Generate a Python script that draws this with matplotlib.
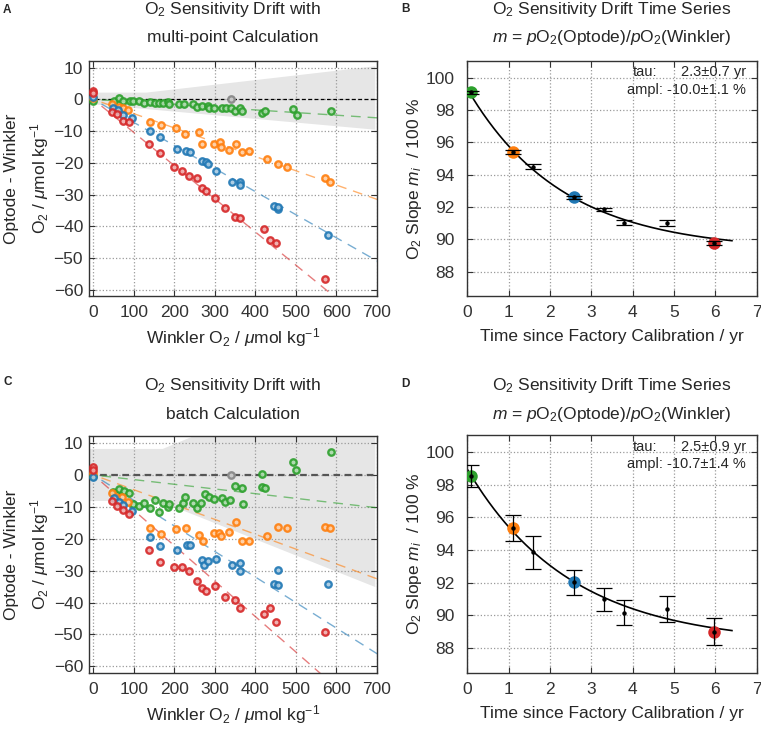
import matplotlib
matplotlib.use("Agg")
import matplotlib.pyplot as plt
import numpy as np

plt.rcParams['font.family'] = ['Liberation Sans', 'DejaVu Sans']
plt.rcParams['mathtext.fontset'] = 'custom'
plt.rcParams['mathtext.rm'] = 'Liberation Sans'
plt.rcParams['mathtext.it'] = 'Liberation Sans:italic'
plt.rcParams['mathtext.bf'] = 'Liberation Sans:bold'

# ---- panel A: multi-point calculation (Winkler O2 vs optode - winkler)
a_green_x = [0, 50, 64, 73, 90, 98, 113, 124, 139, 151, 163, 171, 184, 186, 212, 224, 245, 257,
             269, 282, 286, 298, 318, 327, 339, 351, 363, 367, 416, 424, 494, 502, 588]
a_green_y = [-0.5, -0.6, 0.3, -0.5, -0.5, -0.5, -0.5, -1.0, -0.7, -1.0, -1.0, -1.0, -0.7, -1.4,
             -1.4, -1.4, -1.6, -2.4, -2.1, -2.1, -2.6, -2.6, -2.6, -2.8, -2.8, -3.7, -2.8, -3.7,
             -4.2, -3.7, -3.1, -4.9, -3.7]
a_orange_x = [0, 47, 64, 73, 86, 139, 166, 204, 227, 260, 269, 298, 312, 314, 335, 353, 367, 384,
              429, 455, 478, 573, 585]
a_orange_y = [0.3, -1.4, -2.4, -2.6, -3.4, -7.0, -8.1, -8.9, -11.0, -10.3, -14.0, -14.2, -13.4,
              -15.0, -16.0, -14.2, -16.5, -16.3, -18.7, -20.5, -21.3, -24.9, -25.9]
a_blue_x = [0, 49, 61, 73, 96, 140, 165, 206, 229, 239, 269, 278, 283, 304, 343, 361, 362, 445,
            456, 457, 580]
a_blue_y = [0.8, -2.8, -3.5, -4.9, -6.0, -10.0, -11.9, -15.7, -16.3, -16.6, -19.4, -19.6, -20.5,
            -22.6, -26.2, -25.9, -27.0, -33.6, -34.6, -33.8, -42.7]
a_red_x = [0, 0, 47, 59, 72, 88, 137, 165, 200, 220, 237, 257, 268, 279, 300, 325, 349, 362, 421,
           436, 452, 571]
a_red_y = [2.8, 2.1, -3.9, -4.7, -6.8, -7.0, -14.0, -17.0, -21.3, -22.6, -24.3, -24.9, -27.8,
           -29.0, -31.0, -34.4, -37.0, -37.5, -40.9, -44.4, -45.4, -56.5]
a_fit_slope = [-0.0083, -0.045, -0.0727, -0.1045]   # green, orange, blue, red
a_band_x = [-10, 130, 695]
a_band_hi = [2.3, 2.3, 10.6]
a_band_lo = [-1.3, -2.9, -9.4]

# ---- panel C: batch calculation
c_green_x = [0, 49, 55, 64, 75, 88, 98, 113, 124, 141, 151, 161, 171, 185, 186, 212, 222, 227,
             245, 255, 265, 276, 286, 297, 317, 325, 337, 351, 366, 369, 416, 416, 424, 494, 500, 588]
c_green_y = [-0.3, -5.2, -6.0, -4.5, -4.9, -5.7, -9.1, -9.7, -8.9, -10.4, -7.8, -11.7, -8.7,
             -10.1, -9.1, -10.4, -8.9, -6.8, -8.9, -10.4, -8.7, -6.0, -6.8, -7.5, -7.3, -8.4,
             -7.8, -3.4, -4.2, -9.2, 0.2, -3.7, -4.2, 3.9, 1.4, 7.1]
c_orange_x = [0, 47, 55, 70, 86, 139, 166, 204, 229, 260, 271, 298, 310, 314, 336, 353, 367, 384,
              429, 455, 478, 573, 584]
c_orange_y = [0.5, -5.7, -6.8, -6.8, -8.4, -16.7, -18.6, -17.0, -16.7, -18.9, -20.7, -18.1,
              -18.1, -19.3, -18.0, -14.9, -20.7, -20.7, -19.3, -16.4, -16.5, -16.2, -16.5]
c_blue_x = [0, 51, 63, 73, 96, 141, 165, 206, 230, 239, 268, 273, 283, 304, 343, 361, 361, 447,
            456, 457, 580]
c_blue_y = [-0.5, -7.3, -8.4, -9.4, -11.2, -19.6, -22.3, -23.5, -21.9, -21.9, -26.6, -28.1,
            -27.0, -26.4, -28.3, -27.7, -30.0, -34.2, -34.5, -29.8, -34.3]
c_red_x = [0, 0, 47, 59, 72, 88, 137, 165, 200, 220, 237, 257, 268, 279, 300, 325, 349, 362, 421,
           436, 452, 571]
c_red_y = [2.4, 1.6, -8.2, -9.6, -11.0, -12.3, -23.5, -27.2, -29.0, -29.0, -30.1, -33.4, -35.5,
           -36.3, -34.8, -38.3, -39.2, -41.6, -43.6, -41.8, -46.2, -49.2]
c_fit_slope = [-0.0147, -0.0465, -0.080, -0.111]
c_band_x = [-10, 160, 170, 250, 695]
c_band_hi = [8.3, 8.3, 8.3, 12.5, 12.5]
c_band_lo = [-8.0, -8.0, -8.5, -12.5, -35.0]

ref_x = [339]
ref_y = [0]

# ---- panels B / D: slope time series
t_years = [0.08, 1.10, 1.585, 2.57, 3.30, 3.78, 4.84, 5.96]
b_slope = [99.09, 95.41, 94.49, 92.61, 91.85, 91.03, 91.03, 89.75]
b_err = [0.10, 0.10, 0.15, 0.10, 0.12, 0.15, 0.18, 0.12]
d_slope = [98.53, 95.36, 93.87, 92.02, 91.00, 90.18, 90.39, 89.02]
d_err = [0.66, 0.78, 1.00, 0.77, 0.70, 0.75, 0.80, 0.85]
colored_idx = [0, 1, 3, 7]
b_fit = dict(tau=2.3, ampl=-10.0, offset=99.3)
d_fit = dict(tau=2.5, ampl=-10.7, offset=98.95)
b_text = ["2.3\u00b10.7 yr", "ampl: -10.0\u00b11.1 %"]
d_text = ["2.5\u00b10.9 yr", "ampl: -10.7\u00b11.4 %"]

cols = ['#2ca02c', '#ff7f0e', '#1f77b4', '#d62728']
frame = '#333333'


def light(c, f=0.6):
    r, g, b = matplotlib.colors.to_rgb(c)
    return (r + (1 - r) * f, g + (1 - g) * f, b + (1 - b) * f)


def style(ax, ypad):
    for s in ax.spines.values():
        s.set_color(frame)
        s.set_linewidth(1.0)
    ax.tick_params(direction='in', top=True, right=True, length=4, width=0.8,
                   colors=frame, labelsize=12.5)
    ax.tick_params(axis='x', pad=6.5)
    ax.tick_params(axis='y', pad=ypad)
    ax.grid(True, ls=':', color='#9a9a9a', lw=0.9)
    ax.set_axisbelow(True)


fig = plt.figure(figsize=(7.61, 7.35), dpi=100)
axA = fig.add_axes([0.1174, 0.5973, 0.3777, 0.3201])
axB = fig.add_axes([0.6141, 0.5973, 0.3803, 0.3201])
axC = fig.add_axes([0.1174, 0.0848, 0.3777, 0.3220])
axD = fig.add_axes([0.6141, 0.0848, 0.3803, 0.3234])


def drift_panel(ax, band_x, band_hi, band_lo, pts, slopes, zl_color, zl_lw):
    ax.fill_between(band_x, band_lo, band_hi, color='#e6e6e6', lw=0, zorder=0.5)
    ax.axhline(0, color=zl_color, lw=zl_lw, ls=(0, (3, 2)), zorder=2)
    xf = np.array([20, 720])
    for c, s in zip(cols, slopes):
        ax.plot(xf, s * xf, color=c, alpha=0.6, lw=1.0, ls=(0, (7, 5)), zorder=2.5)
    for c, (xs, ys) in zip(cols, pts):
        ax.plot(xs, ys, 'o', ms=4.6, mec=c, mfc=light(c), mew=1.7, alpha=0.9, zorder=3)
    ax.plot(ref_x, ref_y, 'o', ms=4.6, mec='#8c8c8c', mfc='#c8c8c8', mew=1.7, zorder=3)
    ax.set_xlim(-10, 695)
    ax.set_ylim(-62, 12.2)
    ax.set_xticks(range(0, 701, 100))
    ax.set_yticks(range(-60, 11, 10))
    style(ax, 4.5)
    ax.set_xlabel('Winkler O$_2$ / $\\mu$mol kg$^{-1}$', fontsize=12.5, color='#262626')
    ax.set_ylabel('Optode - Winkler\nO$_2$ / $\\mu$mol kg$^{-1}$', fontsize=12.5,
                  color='#262626', linespacing=1.5)
    ax.xaxis.set_label_coords(0.5, -0.13)
    ax.yaxis.set_label_coords(-0.135, 0.5)


def series_panel(ax, ys, errs, fit, txt):
    tt = np.linspace(0, 6.4, 200)
    ax.plot(tt, fit['offset'] + fit['ampl'] * (1 - np.exp(-tt / fit['tau'])),
            color='k', lw=1.2, zorder=2)
    for c, i in zip(cols, colored_idx):
        ax.plot(t_years[i], ys[i], 'o', ms=7.5, mec=c, mfc=c, mew=1.5, zorder=3)
    ax.errorbar(t_years, ys, yerr=errs, fmt='o', ms=2.2, color='k', ecolor='k',
                elinewidth=0.9, capsize=6, capthick=0.9, zorder=4)
    ax.set_xlim(0, 7)
    ax.set_ylim(86.5, 101.05)
    ax.set_xticks(range(0, 8))
    ax.set_yticks(range(88, 101, 2))
    style(ax, 9)
    ax.set_xlabel('Time since Factory Calibration / yr', fontsize=12.5, color='#262626')
    ax.set_ylabel('O$_2$ Slope $m_i$  / 100 %', fontsize=12.5, color='#262626')
    ax.xaxis.set_label_coords(0.5, -0.14)
    ax.yaxis.set_label_coords(-0.15, 0.5)
    ax.text(0.5715, 0.934, 'tau:', transform=ax.transAxes, fontsize=10.5,
            color='#262626', ha='left', va='baseline')
    ax.text(0.963, 0.934, txt[0], transform=ax.transAxes, fontsize=10.5,
            color='#262626', ha='right', va='baseline')
    ax.text(0.963, 0.86, txt[1], transform=ax.transAxes, fontsize=10.5,
            color='#262626', ha='right', va='baseline')


drift_panel(axA, a_band_x, a_band_hi, a_band_lo,
            [(a_green_x, a_green_y), (a_orange_x, a_orange_y),
             (a_blue_x, a_blue_y), (a_red_x, a_red_y)],
            a_fit_slope, 'k', 0.9)
drift_panel(axC, c_band_x, c_band_hi, c_band_lo,
            [(c_green_x, c_green_y), (c_orange_x, c_orange_y),
             (c_blue_x, c_blue_y), (c_red_x, c_red_y)],
            c_fit_slope, '#555555', 1.6)
series_panel(axB, b_slope, b_err, b_fit, b_text)
series_panel(axD, d_slope, d_err, d_fit, d_text)


def titles(ax, l1, l2, y1, y2):
    p = ax.get_position()
    xc = p.x0 + p.width / 2
    fig.text(xc, y1, l1, ha='center', va='baseline', fontsize=12.5, color='#262626')
    fig.text(xc, y2, l2, ha='center', va='baseline', fontsize=12.5, color='#262626')


titles(axA, 'O$_2$ Sensitivity Drift with', 'multi-point Calculation', 0.9816, 0.9422)
titles(axB, 'O$_2$ Sensitivity Drift Time Series',
       '$m$ = $p$O$_2$(Optode)/$p$O$_2$(Winkler)', 0.9816, 0.9422)
titles(axC, 'O$_2$ Sensitivity Drift with', 'batch Calculation', 0.4694, 0.4299)
titles(axD, 'O$_2$ Sensitivity Drift Time Series',
       '$m$ = $p$O$_2$(Optode)/$p$O$_2$(Winkler)', 0.4694, 0.4299)

for lab, x, y in [('A', 0.004, 0.982), ('B', 0.527, 0.983), ('C', 0.004, 0.476), ('D', 0.527, 0.474)]:
    fig.text(x, y, lab, fontsize=8.5, fontweight='bold', color='#262626', va='baseline')

fig.savefig('out.png', dpi=100)
